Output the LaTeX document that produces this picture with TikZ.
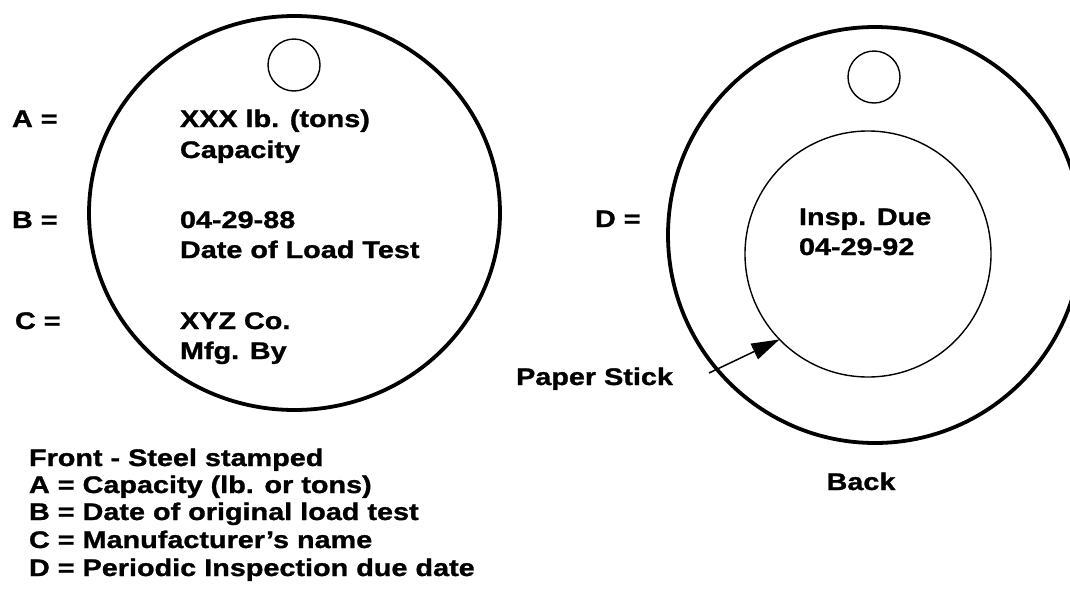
\documentclass[tikz,border=0pt]{standalone}
\usepackage{fontspec}
\setmainfont{Liberation Sans}[FakeStretch=1.2, BoldFeatures={FakeBold=1.2}]
\usetikzlibrary{arrows.meta,shapes.geometric}
\begin{document}
\begin{tikzpicture}[x=1pt,y=-1pt,
  every node/.style={inner sep=0pt, outer sep=0pt},
  lab/.style={font=\fontsize{24}{28}\selectfont\bfseries, anchor=base west},
  thickring/.style={draw, ellipse, line width=3.8pt},
  thinring/.style={draw, circle, line width=1.4pt},
  pointer/.style={line width=1.5pt, -{Triangle[length=28pt,width=17pt]}}]
\useasboundingbox (0,0) rectangle (1070,600);
\clip (0,0) rectangle (1070,600);
% front tag
\node[thickring, minimum width=411pt, minimum height=394pt] (front) at (294.5,213) {};
\node[thinring, minimum size=52pt] (fhole) at (294,65) {};
\node[lab] (la) at (12,127) {A =};
\node[lab] (fa1) at (180,127) {XXX lb. (tons)};
\node[lab] (fa2) at (180,158) {Capacity};
\node[lab] (lb) at (12,228) {B =};
\node[lab] (fb1) at (180,228) {04-29-88};
\node[lab] (fb2) at (180,258) {Date of Load Test};
\node[lab] (lc) at (15,329) {C =};
\node[lab] (fc1) at (180,329) {XYZ Co.};
\node[lab] (fc2) at (180,359) {Mfg. By};
% back tag
\node[thickring, minimum width=414pt, minimum height=416pt] (back) at (875,235) {};
\node[thinring, minimum size=52pt] (bhole) at (874,77) {};
\node[thinring, minimum size=246pt] (inner) at (868,254) {};
\node[lab] (ld) at (595,227) {D =};
\node[lab] (bd1) at (799,225) {Insp. Due};
\node[lab] (bd2) at (799,255) {04-29-92};
\node[lab, anchor=base east] (paper) at (673,385) {Paper Stick};
\coordinate (ptail) at (709,373);
\draw[pointer] (ptail) -- (inner.224);
\node[lab, anchor=base] (backlab) at (861,490) {Back};
% legend
\node[lab] (k0) at (29,466) {Front - Steel stamped};
\node[lab] (k1) at (29,493) {A = Capacity (lb. or tons)};
\node[lab] (k2) at (29,520) {B = Date of original load test};
\node[lab] (k3) at (29,548) {C = Manufacturer's name};
\node[lab] (k4) at (29,576) {D = Periodic Inspection due date};
\end{tikzpicture}
\end{document}
